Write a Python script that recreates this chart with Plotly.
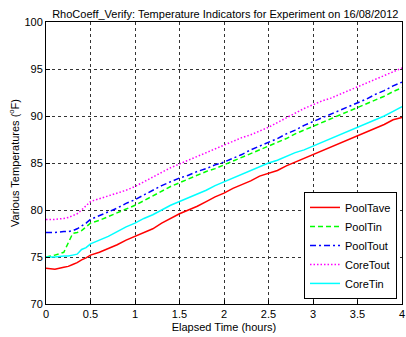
import plotly.graph_objects as go

# Elapsed time (hours) shared by all temperature channels
time_h = [0, 0.1, 0.2, 0.25, 0.3, 0.35, 0.4, 0.45, 0.5,
          0.6, 0.7, 0.8, 0.9, 1.0, 1.1, 1.2, 1.3, 1.4, 1.5,
          1.6, 1.7, 1.8, 1.9, 2.0, 2.1, 2.2, 2.3, 2.4, 2.5,
          2.6, 2.7, 2.8, 2.9, 3.0, 3.1, 3.2, 3.3, 3.4, 3.5,
          3.6, 3.7, 3.8, 3.9, 4.0]

pool_tave = [73.8, 73.7, 73.9, 74.0, 74.2, 74.4, 74.7, 74.9, 75.2,
             75.5, 75.9, 76.3, 76.8, 77.2, 77.6, 78.0, 78.6, 79.1, 79.6,
             80.0, 80.4, 80.9, 81.4, 81.8, 82.3, 82.7, 83.1, 83.6, 83.9,
             84.2, 84.7, 85.1, 85.5, 85.9, 86.3, 86.7, 87.1, 87.5, 87.9,
             88.3, 88.7, 89.1, 89.6, 89.85]

pool_tin = [75.0, 75.2, 75.5, 76.6, 77.5, 77.6, 77.8, 78.2, 78.6,
            78.9, 79.3, 79.7, 80.1, 80.5, 81.0, 81.5, 82.0, 82.5, 82.9,
            83.3, 83.7, 84.1, 84.4, 84.8, 85.2, 85.6, 86.0, 86.4, 86.8,
            87.2, 87.6, 88.1, 88.5, 88.9, 89.3, 89.7, 90.1, 90.5, 90.9,
            91.3, 91.7, 92.1, 92.6, 93.0]

pool_tout = [77.6, 77.6, 77.7, 77.7, 77.8, 78.0, 78.3, 78.6, 79.0,
             79.4, 79.8, 80.2, 80.7, 81.1, 81.6, 82.1, 82.6, 83.0, 83.4,
             83.7, 84.1, 84.4, 84.8, 85.1, 85.5, 85.9, 86.4, 86.8, 87.2,
             87.6, 88.1, 88.5, 89.0, 89.4, 89.8, 90.2, 90.6, 91.0, 91.4,
             91.8, 92.3, 92.7, 93.2, 93.6]

core_tout = [79.0, 79.0, 79.1, 79.2, 79.4, 79.6, 80.0, 80.5, 80.9,
             81.2, 81.5, 81.8, 82.1, 82.5, 83.0, 83.5, 84.0, 84.5, 84.9,
             85.3, 85.7, 86.1, 86.5, 86.9, 87.3, 87.7, 88.0, 88.4, 88.8,
             89.3, 89.8, 90.3, 90.8, 91.2, 91.6, 91.9, 92.3, 92.7, 93.1,
             93.5, 93.9, 94.3, 94.7, 95.1]

core_tin = [75.0, 75.0, 75.1, 75.1, 75.2, 75.3, 75.8, 76.0, 76.4,
            76.8, 77.2, 77.7, 78.2, 78.6, 79.1, 79.5, 80.0, 80.5, 80.9,
            81.3, 81.7, 82.1, 82.6, 83.0, 83.4, 83.8, 84.2, 84.6, 85.0,
            85.3, 85.7, 86.1, 86.4, 86.8, 87.2, 87.6, 88.0, 88.4, 88.8,
            89.2, 89.6, 90.0, 90.5, 91.0]

x_ticks = [0, 0.5, 1, 1.5, 2, 2.5, 3, 3.5, 4]
x_tick_text = ["0", "0.5", "1", "1.5", "2", "2.5", "3", "3.5", "4"]
y_ticks = [70, 75, 80, 85, 90, 95, 100]

series = [
    ("PoolTave", pool_tave, "#ff0000", "solid"),
    ("PoolTin", pool_tin, "#00ff00", "5px,3px"),
    ("PoolTout", pool_tout, "#0000ff", "6px,3px,2px,3px"),
    ("CoreTout", core_tout, "#ff00ff", "1.5px,2px"),
    ("CoreTin", core_tin, "#00ffff", "solid"),
]

FONT = "Arial, Liberation Sans, sans-serif"

fig = go.Figure()
for name, values, color, dash in series:
    fig.add_trace(go.Scatter(
        x=time_h, y=values, mode="lines", name=name,
        line=dict(color=color, width=1.5, dash=dash),
    ))

axis_common = dict(
    showline=True, linecolor="black", linewidth=1, mirror=True,
    ticks="inside", ticklen=4, tickcolor="black",
    showgrid=True, gridcolor="#333333", griddash="3px,3px", gridwidth=1,
    zeroline=False, tickfont=dict(family=FONT, size=11, color="black"),
    ticklabeloverflow="allow",
)

fig.update_xaxes(range=[0, 4], tickvals=x_ticks, ticktext=x_tick_text,
                 title=dict(text="Elapsed Time (hours)", standoff=4,
                            font=dict(family=FONT, size=11, color="black")),
                 **axis_common)
fig.update_yaxes(range=[70, 100], tickvals=y_ticks,
                 title=dict(text="Various Temperatures (<sup>o</sup>F)", standoff=2,
                            font=dict(family=FONT, size=11, color="black")),
                 **axis_common)

fig.update_layout(
    width=406, height=337,
    margin=dict(l=46, r=1, t=22, b=33),
    paper_bgcolor="white", plot_bgcolor="white",
    title=dict(text="RhoCoeff_Verify: Temperature Indicators for Experiment on 16/08/2012",
               x=0.555, xanchor="center", y=0.97, yanchor="top",
               font=dict(family=FONT, size=11, color="black")),
    legend=dict(x=0.986, xanchor="right", y=0.018, yanchor="bottom",
                bgcolor="white", bordercolor="black", borderwidth=1,
                font=dict(family=FONT, size=11, color="black"),
                tracegroupgap=0, itemwidth=30),
    showlegend=True,
)

fig.write_html("out.html")
